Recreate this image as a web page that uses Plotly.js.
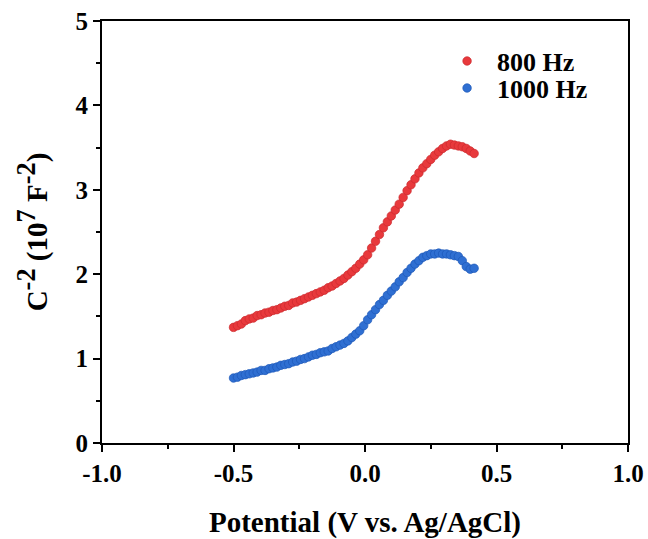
<!DOCTYPE html>
<html>
<head>
<meta charset="utf-8">
<script src="https://cdn.plot.ly/plotly-3.0.1.min.js"></script>
<style>html,body{margin:0;padding:0;background:#fff;}#chart{width:648px;height:539px;}</style>
</head>
<body>
<div id="chart"></div>
<script>
const potential = [-0.500,-0.485,-0.470,-0.455,-0.440,-0.425,-0.410,-0.395,-0.380,-0.365,-0.350,-0.335,-0.320,-0.305,-0.290,-0.275,-0.260,-0.245,-0.230,-0.215,-0.200,-0.185,-0.170,-0.155,-0.140,-0.125,-0.110,-0.095,-0.080,-0.065,-0.050,-0.035,-0.020,-0.005,0.010,0.025,0.040,0.055,0.070,0.085,0.100,0.115,0.130,0.145,0.160,0.175,0.190,0.205,0.220,0.235,0.250,0.265,0.280,0.295,0.310,0.325,0.340,0.355,0.370,0.385,0.400,0.415];
const hz800 = [1.37,1.39,1.41,1.45,1.47,1.48,1.51,1.52,1.54,1.55,1.57,1.58,1.60,1.62,1.63,1.66,1.67,1.69,1.71,1.73,1.75,1.77,1.79,1.81,1.84,1.86,1.89,1.92,1.95,1.99,2.03,2.07,2.12,2.17,2.23,2.31,2.39,2.47,2.55,2.62,2.69,2.76,2.83,2.91,2.99,3.06,3.13,3.20,3.26,3.31,3.36,3.41,3.45,3.49,3.52,3.54,3.53,3.52,3.51,3.49,3.46,3.43];
const hz1000 = [0.77,0.78,0.80,0.81,0.82,0.83,0.84,0.86,0.86,0.88,0.89,0.90,0.92,0.93,0.94,0.96,0.97,0.99,1.00,1.02,1.04,1.05,1.07,1.08,1.09,1.12,1.14,1.16,1.18,1.21,1.25,1.29,1.33,1.39,1.46,1.52,1.58,1.64,1.69,1.75,1.80,1.85,1.91,1.96,2.02,2.07,2.12,2.16,2.20,2.22,2.24,2.24,2.25,2.24,2.24,2.23,2.22,2.21,2.16,2.09,2.06,2.07];
const seriesNames = ['800 Hz','1000 Hz'];
const xTicks = [-1.0,-0.5,0.0,0.5,1.0];
const xTickText = ['-1.0','-0.5','0.0','0.5','1.0'];
const yTicks = [0,1,2,3,4,5];

const font = 'Liberation Serif, Times New Roman, serif';
const traces = [
  {x: potential, y: hz800, name: seriesNames[0], mode: 'markers', type: 'scatter', legend: 'legend',
   marker: {size: 8.5, color: '#e8393c', line: {color: '#cc2a2e', width: 0.7}}},
  {x: potential, y: hz1000, name: seriesNames[1], mode: 'markers', type: 'scatter', legend: 'legend2',
   marker: {size: 8.5, color: '#2f6fd2', line: {color: '#1d58b8', width: 0.7}}}
];
const axisCommon = {
  showline: true, linecolor: '#000', linewidth: 2, mirror: true,
  ticks: 'outside', ticklen: 7, tickwidth: 2, tickcolor: '#000',
  showgrid: false, zeroline: false,
  tickfont: {family: font, size: 25, color: '#000', weight: 'bold'}
};
const legendCommon = {xanchor: 'left', yanchor: 'middle', bgcolor: 'rgba(0,0,0,0)', borderwidth: 0,
  font: {family: font, size: 26, color: '#000', weight: 'bold'}, itemwidth: 50};
const sup = s => '<sup><span style="font-size:130%">' + s + '</span></sup>';
const layout = {
  width: 648, height: 539,
  margin: {l: 102, r: 20, t: 21, b: 96},
  paper_bgcolor: '#fff', plot_bgcolor: '#fff',
  showlegend: true,
  legend: Object.assign({}, legendCommon, {x: 0.637, y: 0.905}),
  legend2: Object.assign({}, legendCommon, {x: 0.637, y: 0.841}),
  xaxis: Object.assign({}, axisCommon, {
    range: [-1.0, 1.0], tickvals: xTicks, ticktext: xTickText,
    minor: {ticks: 'outside', ticklen: 4, tickwidth: 2, tickcolor: '#000', dtick: 0.25, tick0: 0},
    title: {text: 'Potential (V vs. Ag/AgCl)', standoff: 27, font: {family: font, size: 29, color: '#000', weight: 'bold'}}
  }),
  yaxis: Object.assign({}, axisCommon, {
    range: [0, 5], tickvals: yTicks,
    minor: {ticks: 'outside', ticklen: 4, tickwidth: 2, tickcolor: '#000', dtick: 0.5, tick0: 0},
    title: {text: 'C' + sup('-2') + ' (10' + sup('7') + ' F' + sup('-2') + ')', standoff: 19, font: {family: font, size: 29, color: '#000', weight: 'bold'}}
  })
};
Plotly.newPlot('chart', traces, layout, {displayModeBar: false, staticPlot: true});
</script>
</body>
</html>
